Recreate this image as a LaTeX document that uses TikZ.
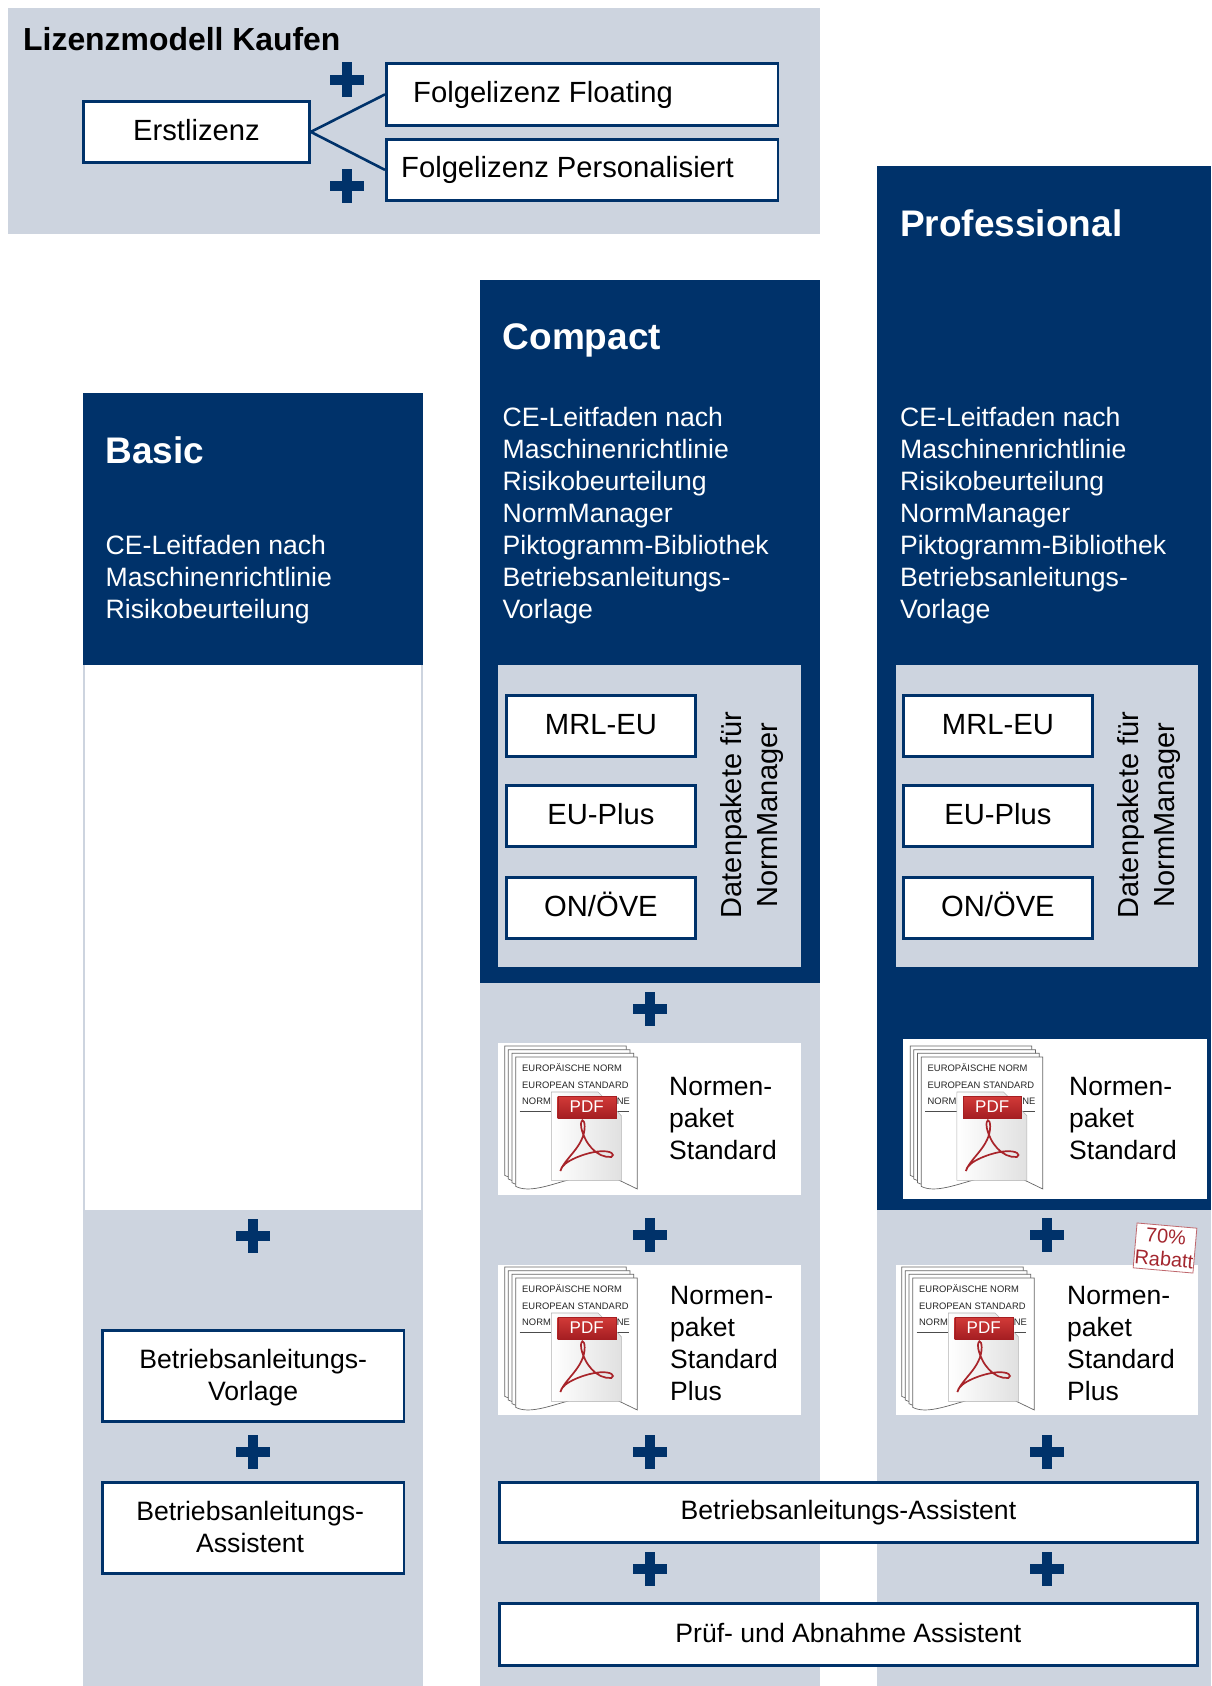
\documentclass[tikz,border=0pt]{standalone}
\usepackage{fontspec}
\setmainfont{Liberation Sans}
\definecolor{navy}{HTML}{00326A}
\definecolor{panelgrey}{HTML}{CDD4DF}
\definecolor{stampred}{HTML}{A3262E}
\definecolor{bannertop}{HTML}{D23A38}
\definecolor{bannerbot}{HTML}{A51E22}
\definecolor{acro}{HTML}{A8242A}
\newcommand\pdficon[2]{%
\begin{scope}[shift={(#1,#2)}]
\begin{scope}[x=0.33333pt,y=-0.33333pt,shift={(-25,-40)}]
\foreach \dd in {33,22,11,0}{
  \filldraw[sheet,shift={(-\dd,-\dd)}] (78,82)--(443,82)--(443,478)--(385,450)--(240,450) .. controls (190,462) and (120,492) .. (78,470) -- cycle;
}
\node[doctext] (d1) at (97,113) {EUROPÄISCHE NORM};
\node[doctext] (d2) at (97,166) {EUROPEAN STANDARD};
\node[doctext] (d3) at (97,216) {NORMI};
\node[doctext] (d5) at (381,216) {NE};
\draw[line width=0.9pt,black!70] (90,245)--(418,245);
\path[draw=black!30,line width=0.6pt,left color=white,right color=black!12] (185,187)--(325,187)--(395,258)--(395,452)--(185,452)--cycle;
\path[top color=bannertop,bottom color=bannerbot,draw=bannerbot,line width=0.3pt] (204,200) rectangle (378,265);
\node[text=white,font=\fontsize{17}{17}\selectfont,inner sep=0pt] (d4) at (291,232) {PDF};
\draw[line width=1.7pt,color=acro] (212,424) .. controls (225,385) and (285,350) .. (285,290) .. controls (285,265) and (270,265) .. (275,295) .. controls (285,340) and (320,385) .. (365,382) .. controls (378,375) and (365,362) .. (330,365) .. controls (290,368) and (215,395) .. (212,424) -- cycle;
\end{scope}
\end{scope}}
\tikzset{
  sheet/.style={draw=black!60,fill=white,line width=0.7pt},
  doctext/.style={anchor=west,inner sep=0pt,font=\fontsize{9.4}{10}\selectfont,text=black!85},
  panel/.style={fill=panelgrey,draw=none},
  navyblock/.style={fill=navy,draw=none},
  whitepatch/.style={fill=white,draw=none},
  bluebox/.style={draw=navy,fill=white,line width=2.8pt,inner sep=0pt},
  boxlabel/.style={inner sep=0pt,align=center,font=\fontsize{26.6}{32}\selectfont},
  bigbox/.style={bluebox,font=\fontsize{29.2}{32}\selectfont,text height=20pt,text depth=3pt},
  title/.style={anchor=west,inner sep=0pt,text=white,font=\fontsize{37}{40}\bfseries\selectfont},
  bodytext/.style={anchor=west,inner sep=0pt,text=white,align=left,font=\fontsize{26.6}{32}\selectfont},
  packtext/.style={anchor=west,inner sep=0pt,align=left,font=\fontsize{26.5}{32}\selectfont},
  vertext/.style={rotate=90,inner sep=0pt,align=center,font=\fontsize{29}{36}\selectfont},
  link/.style={draw=navy,line width=2.6pt},
  plussign/.pic={\fill[navy] (-17,-5) rectangle (17,5); \fill[navy] (-5,-17) rectangle (5,17);}
}
\begin{document}
\begin{tikzpicture}[x=1pt,y=-1pt]
\useasboundingbox (0,0) rectangle (1211,1686);
\fill[white] (0,0) rectangle (1211,1686);
% top panel
\fill[panel] (8,8) rectangle (820,234);
\node[anchor=west,inner sep=0pt,font=\fontsize{31.9}{36}\bfseries\selectfont] (lic) at (23,39) {Lizenzmodell Kaufen};
\node[bigbox,anchor=north west,minimum width=226pt,minimum height=61pt] (erst) at (82,100) {Erstlizenz};
\node[bigbox,anchor=north west,minimum width=391.5pt,minimum height=62pt] (flo) at (385,62) {};
\node[anchor=west,inner sep=0pt,font=\fontsize{29.2}{32}\selectfont] (flot) at (413,95) {Folgelizenz Floating};
\node[bigbox,anchor=north west,minimum width=391.5pt,minimum height=61pt] (pers) at (385,138) {};
\node[anchor=west,inner sep=0pt,font=\fontsize{29.2}{32}\selectfont] (perst) at (401,170) {Folgelizenz Personalisiert};
\draw[link] (erst.east) -- (flo.west);
\draw[link] (erst.east) -- (pers.west);
\pic at (347,79.5) {plussign};
\pic at (347,186) {plussign};
% columns
\fill[panel] (83,1210) rectangle (423,1686);
\fill[panel] (480,983) rectangle (820,1686);
\fill[panel] (877,1210) rectangle (1211,1686);
\fill[navyblock] (83,393) rectangle (423,665);
\fill[navyblock] (480,280) rectangle (820,983);
\fill[navyblock] (877,166) rectangle (1211,1210);
\fill[white] (84,665) rectangle (422,1210);
\draw[panelgrey,line width=1.6pt] (84,665) -- (84,1210) (422,665) -- (422,1210);
% headings
\node[title] (tb) at (105.5,450) {Basic};
\node[title] (tc) at (502.5,340) {Compact};
\node[title] (tp) at (900,223) {Professional};
\node[bodytext] (bb) at (105.5,580) {CE-Leitfaden nach\\Maschinenrichtlinie\\Risikobeurteilung};
\node[bodytext] (bc) at (502.5,515.5) {CE-Leitfaden nach\\Maschinenrichtlinie\\Risikobeurteilung\\NormManager\\Piktogramm-Bibliothek\\Betriebsanleitungs-\\Vorlage};
\node[bodytext] (bp) at (900,515.5) {CE-Leitfaden nach\\Maschinenrichtlinie\\Risikobeurteilung\\NormManager\\Piktogramm-Bibliothek\\Betriebsanleitungs-\\Vorlage};
% data packages
\fill[panel] (498,665) rectangle (801,967);
\fill[panel] (896,665) rectangle (1198,967);
\node[bigbox,anchor=north west,minimum width=189pt,minimum height=61pt] (c1) at (505,694) {MRL-EU};
\node[bigbox,anchor=north west,minimum width=189pt,minimum height=61pt] (c2) at (505,784) {EU-Plus};
\node[bigbox,anchor=north west,minimum width=189pt,minimum height=61pt] (c3) at (505,876) {ON/ÖVE};
\node[bigbox,anchor=north west,minimum width=189pt,minimum height=61pt] (p1) at (902,694) {MRL-EU};
\node[bigbox,anchor=north west,minimum width=189pt,minimum height=61pt] (p2) at (902,784) {EU-Plus};
\node[bigbox,anchor=north west,minimum width=189pt,minimum height=61pt] (p3) at (902,876) {ON/ÖVE};
\node[vertext] (vc) at (751.5,815) {Datenpakete für\\NormManager};
\node[vertext] (vp) at (1148.5,815) {Datenpakete für\\NormManager};
% standard packs
\fill[whitepatch] (498,1043) rectangle (801,1195);
\fill[whitepatch] (498,1265) rectangle (801,1415);
\fill[whitepatch] (903,1039) rectangle (1207,1199);
\fill[whitepatch] (896,1265) rectangle (1198,1415);
\pdficon{498}{1043}
\pdficon{498}{1264}
\pdficon{903.5}{1043}
\pdficon{895}{1264}
\node[packtext] (n1) at (669,1118) {Normen-\\paket\\Standard};
\node[packtext] (n2) at (670,1343) {Normen-\\paket\\Standard\\Plus};
\node[packtext] (n3) at (1069,1118) {Normen-\\paket\\Standard};
\node[packtext] (n4) at (1067,1343) {Normen-\\paket\\Standard\\Plus};
% stamp
\node[draw=stampred!70,line width=0.8pt,fill=white,rotate=-5,minimum width=60pt,minimum height=45pt,inner sep=0pt,align=center,text=stampred,font=\fontsize{20}{23}\selectfont] (st) at (1165,1248) {70\%\\Rabatt};
% assistants
\node[bluebox,anchor=north west,minimum width=301.5pt,minimum height=91pt] (b1) at (101,1329) {};
\node[boxlabel,yshift=-2pt] (b1t) at (b1.center) {Betriebsanleitungs-\\Vorlage};
\node[bluebox,anchor=north west,minimum width=301.5pt,minimum height=91pt] (b2) at (101,1481) {};
\node[boxlabel,xshift=-3pt,yshift=1pt] (b2t) at (b2.center) {Betriebsanleitungs-\\Assistent};
\node[bluebox,anchor=north west,minimum width=698pt,minimum height=60pt] (a1) at (498,1481) {};
\node[boxlabel] (a1t) at (a1.center) {Betriebsanleitungs-Assistent};
\node[bluebox,anchor=north west,minimum width=698pt,minimum height=62pt] (a2) at (498,1602) {};
\node[boxlabel,yshift=1pt] (a2t) at (a2.center) {Prüf- und Abnahme Assistent};
% plus signs
\foreach \px/\py in {253/1236,253/1452,650/1009,650/1235,650/1452,650/1569,1047/1235,1047/1452,1047/1569}{
  \pic at (\px,\py) {plussign};
}
\end{tikzpicture}
\end{document}
